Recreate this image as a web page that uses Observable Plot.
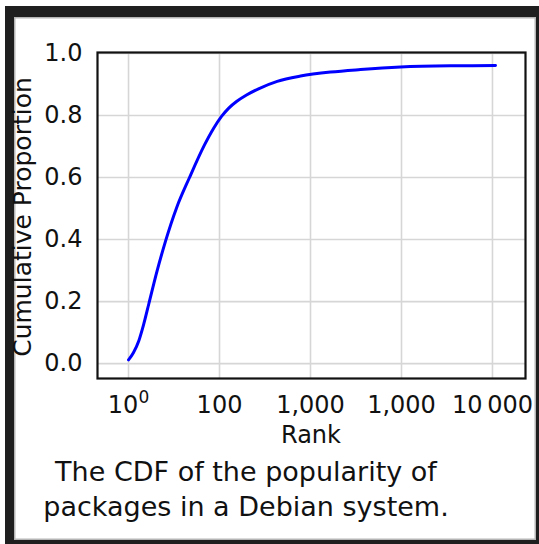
<!DOCTYPE html>
<html>
<head>
<meta charset="utf-8">
<script src="https://cdn.jsdelivr.net/npm/d3@7"></script>
<script src="https://cdn.jsdelivr.net/npm/@observablehq/plot@0.6"></script>
<style>
  html, body { margin: 0; padding: 0; background: #fff; }
  #wrap { position: relative; width: 539px; height: 544px; overflow: hidden; }
  #frame { position: absolute; left: 5px; top: 6px; width: 534px; height: 538px; box-sizing: border-box;
           border-style: solid; border-color: #1f1f1f; border-width: 11px 3px 4px 9px;
           box-shadow: inset 0 0 0 1.5px #b5b5b5; }
  #chart { position: absolute; left: 0; top: 0; }
</style>
</head>
<body>
<div id="wrap"><div id="frame"></div><div id="chart"></div></div>
<script>
// Data
const ranks = [1, 1.135, 1.298, 1.462, 1.672, 2.057, 2.551, 3.37, 4.68, 6.84, 8.59, 10.52, 12.56, 15.38, 19.81, 26.83, 43.06, 77.65, 165.9, 354.4, 975, 3455, 10790];
const cdf   = [0.012, 0.036, 0.074, 0.125, 0.193, 0.298, 0.395, 0.502, 0.600, 0.705, 0.758, 0.797, 0.823, 0.845, 0.866, 0.886, 0.910, 0.927, 0.940, 0.948, 0.956, 0.960, 0.961];
const xTicks = [1, 10, 100, 1000, 10000];
const xTickLabels = ["10\u2070", "100", "1,000", "1,000", "10\u2009000"];
const yTicks = [0, 0.2, 0.4, 0.6, 0.8, 1.0];
const yTickLabels = ["0.0", "0.2", "0.4", "0.6", "0.8", "1.0"];
const xLabel = "Rank";
const yLabel = "Cumulative Proportion";
const captionLines = ["The CDF of the popularity of", "packages in a Debian system."];

const data = ranks.map((r, i) => ({rank: r, cdf: cdf[i]}));
const xLab = new Map(xTicks.map((t, i) => [t, xTickLabels[i]]));
const yLab = new Map(yTicks.map((t, i) => [t, yTickLabels[i]]));

const chart = Plot.plot({
  width: 539, height: 544,
  marginLeft: 97, marginRight: 14, marginTop: 52, marginBottom: 166,
  style: {fontFamily: "DejaVu Sans", fontSize: "24px", background: "transparent", color: "#111"},
  x: {type: "log", domain: [0.456, 23060]},
  y: {domain: [-0.048, 1.003]},
  marks: [
    Plot.gridX(xTicks, {stroke: "#d6d6d6", strokeOpacity: 1, strokeWidth: 1.6}),
    Plot.gridY(yTicks, {stroke: "#d6d6d6", strokeOpacity: 1, strokeWidth: 1.6}),
    Plot.axisX(xTicks, {tickSize: 0, tickPadding: 17, tickFormat: d => xLab.get(d), label: null}),
    Plot.axisY(yTicks, {tickSize: 0, tickPadding: 15, tickFormat: d => yLab.get(d), label: null}),
    Plot.line(data, {x: "rank", y: "cdf", stroke: "#0000ff", strokeWidth: 3, curve: "monotone-x"}),
    Plot.frame({stroke: "#111", strokeWidth: 2.2})
  ]
});

const svg = d3.select(chart);
// render the superscript exponent of the first x tick label
svg.selectAll("text").filter(function() { return this.textContent === "10\u2070"; })
  .each(function() {
    const t = d3.select(this);
    t.text("10");
    t.append("tspan").attr("font-size", 17).attr("dy", "-0.55em").text("0");
  });
svg.append("text").attr("transform", "translate(31,217) rotate(-90)")
  .attr("text-anchor", "middle").attr("font-size", 25).attr("fill", "#111").text(yLabel);
svg.append("text").attr("x", 311).attr("y", 443)
  .attr("text-anchor", "middle").attr("font-size", 24).attr("fill", "#111").text(xLabel);
svg.append("text").attr("x", 246).attr("y", 481)
  .attr("text-anchor", "middle").attr("font-size", 27).attr("fill", "#111").text(captionLines[0]);
svg.append("text").attr("x", 246).attr("y", 516)
  .attr("text-anchor", "middle").attr("font-size", 27).attr("fill", "#111").text(captionLines[1]);

document.getElementById("chart").appendChild(chart);
</script>
</body>
</html>
